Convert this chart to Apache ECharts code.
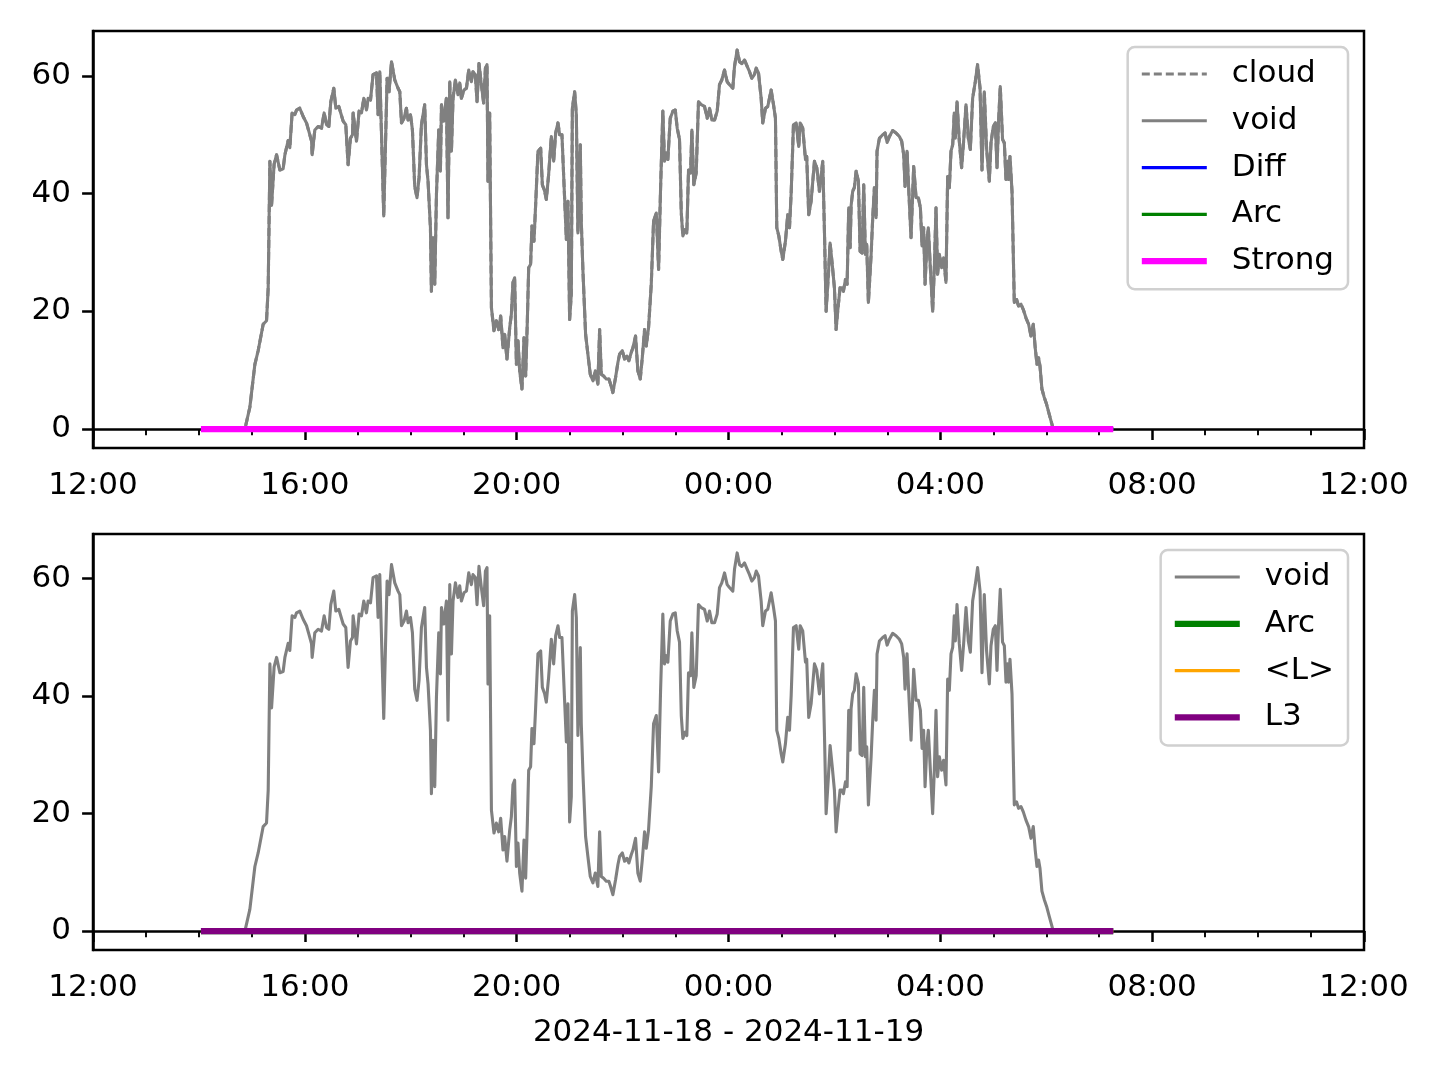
<!DOCTYPE html>
<html>
<head>
<meta charset="utf-8">
<script src="https://cdn.jsdelivr.net/npm/echarts@6/dist/echarts.min.js"></script>
<style>
html,body{margin:0;padding:0;background:#ffffff;}
#chart{width:1440px;height:1080px;}
</style>
</head>
<body>
<div id="chart"></div>
<script>
// ---------- data ----------
// time axis: 2024-11-18 12:00 UTC .. 2024-11-19 12:00 UTC
const axisStart = Date.UTC(2024, 10, 18, 12, 0);
const axisEnd = Date.UTC(2024, 10, 19, 12, 0);
const xAxisTitle = '2024-11-18 - 2024-11-19';
const yTickValues = [0, 20, 40, 60];

// minutes after 2024-11-18 12:00
const voidMinutes = [
122.3,172.1,177.7,183.4,187.1,192.8,196.6,198.5,200.4,202.3,205.2,208.0,211.7,215.4,217.4,221.1,223.0,225.6,228.7,230.6,
234.3,238.1,241.9,244.5,247.6,248.3,251.3,255.1,258.9,261.9,264.6,267.2,269.4,272.8,275.1,278.5,283.4,286.4,289.0,291.7,
294.0,294.7,298.5,301.5,304.2,306.8,309.8,311.7,314.4,317.3,321.2,323.0,324.9,326.8,329.4,333.2,335.4,338.2,341.9,345.6,
347.6,349.5,352.4,355.1,357.0,359.7,361.9,364.5,367.1,369.4,372.1,375.8,377.8,379.6,382.3,383.4,385.2,387.2,389.1,391.7,
393.6,394.8,397.4,400.4,402.2,404.2,406.1,407.9,410.6,413.5,415.5,417.4,420.3,423.1,425.7,428.7,430.5,433.2,435.1,437.3,
440.0,442.6,444.6,446.4,447.5,449.4,451.4,454.3,457.0,459.6,461.9,464.5,466.4,469.0,472.1,474.0,475.8,477.7,479.7,481.5,
483.4,486.0,488.3,490.2,492.1,493.6,495.8,497.3,499.6,501.5,504.1,507.2,509.1,511.7,513.6,516.2,519.3,521.9,524.2,526.8,
528.7,531.3,534.3,536.3,538.1,540.0,541.9,543.1,545.7,547.6,549.4,552.1,553.2,555.1,558.1,560.7,563.4,566.4,569.1,572.0,
574.0,575.9,578.5,581.5,584.5,586.4,589.0,592.1,594.7,596.6,599.7,602.3,604.9,607.1,609.8,611.7,614.7,617.3,620.0,622.3,
624.9,626.8,629.4,632.5,635.1,638.2,640.8,643.0,645.6,647.5,649.5,651.3,654.0,657.0,659.7,661.9,664.5,666.5,668.3,671.0,
672.8,674.7,677.0,678.5,680.7,683.4,686.0,689.1,692.8,695.9,698.5,701.1,704.2,707.2,709.8,712.4,715.5,718.5,721.1,724.9,
726.8,729.8,732.5,735.1,738.1,741.2,743.8,746.4,749.4,751.4,754.0,757.0,758.8,761.9,764.5,768.3,771.0,773.2,774.7,777.0,
779.7,781.5,784.5,787.1,789.1,791.0,793.6,796.6,799.6,801.2,804.1,807.2,808.6,810.9,813.6,815.4,817.4,820.0,823.0,826.8,
828.7,830.6,833.2,835.1,837.4,840.0,841.9,843.7,846.4,848.7,850.2,852.5,854.4,856.2,857.8,858.9,860.7,862.6,864.6,867.2,
869.1,871.4,873.2,875.1,876.6,878.5,881.6,883.4,885.3,887.2,888.3,891.0,894.7,897.4,899.7,902.3,906.0,909.8,913.6,916.2,
918.5,920.0,922.3,924.1,926.8,929.8,932.5,935.1,937.4,939.3,941.1,942.7,944.9,946.4,948.7,951.3,953.2,955.1,956.9,958.9,
961.5,963.7,966.4,968.3,970.2,972.1,974.0,975.8,977.0,978.9,981.5,984.1,986.4,989.1,991.7,994.0,996.6,999.6,1002.2,1005.0,
1007.2,1009.8,1012.4,1015.5,1017.4,1020.0,1022.3,1024.2,1026.0,1027.9,1030.5,1032.5,1034.4,1036.2,1037.3,1038.9,1041.2,1043.8,1046.4,1048.6,
1051.4,1054.0,1057.0,1060.0,1062.7,1065.3,1067.5,1069.5,1071.3,1072.9,1075.1,1077.7,1080.4,1083.4,1086.5,1087.9,1155.9
];
const voidValues = [
0,0,3.7,11,13.3,17.8,18.4,24,45.5,38,45,46.6,44,44.2,46.6,49,47.8,53.7,53.4,54.2,
54.5,53.1,52,50.6,48.9,46.6,50.8,51.4,51.1,53.7,51.7,51.4,55.6,57.9,54.5,54.8,52.3,51.7,44.9,49.4,
50,53.7,48.9,54,53.7,56.2,54.2,56.2,55.9,60.2,60.5,53.4,60.7,61,36.2,59.6,57.3,62.4,59.3,57.9,
57.3,52,52.8,54.5,52.5,53.4,50.8,41.2,39.3,42.7,51.7,55.1,44.9,42.1,34.2,23.4,32.5,24.6,39.8,50.8,
43.8,55.1,52.3,56.2,35.9,59,47.2,56.2,59.3,56.8,58.8,56.2,57.6,57.9,61,59,60.7,60.2,55.6,62.1,
58.5,55.4,61.3,61.9,42.1,53.7,20.6,16.7,18.4,16.9,19.2,13.8,16.1,11.9,17.2,19.5,24.9,25.7,11,15,
9.9,6.8,15.5,9,18.4,27.4,28,34.5,31.9,38.1,47.2,47.7,41.5,40.4,39,43.2,49.7,45.5,50.3,52,
50,50,39.3,32.2,38.7,18.6,22.9,54.5,57.3,53.4,33.3,48.3,35.3,26.8,16.1,12.7,9.3,8.2,9.9,7.6,
16.9,9.3,9,8.5,8.5,7.6,6.2,8.8,11.3,12.7,13.3,11.9,12.4,11.6,13,13.8,15.8,9.9,8.5,12.1,
16.9,14.1,17.2,24.6,35.3,36.7,27.1,40.7,54,45.5,46.9,45.8,52.8,54,54.2,51.1,49.2,36.7,32.8,33.9,
33.3,44,43.5,50.8,41.5,43.5,55.6,55.1,54.8,52.8,54.5,52.5,52.5,54,58.5,59.3,61,59,58.5,57.9,
61.6,64.4,62.4,62.1,62.7,61.6,60.7,59.6,60.2,61.3,60.5,56.2,52,54.5,54.8,57.6,55.1,52.8,34.2,32.8,
30.2,28.8,31.9,36.4,34.2,40.1,51.7,52,48,52,51.1,45.8,46.3,36.4,38.7,38.9,45.5,44.4,40.4,45.5,
33.6,20,26.3,31.6,28.2,24,16.9,20,24,24,23.4,25.4,24.6,37.6,30.8,37.9,40.4,41,43.8,42.1,
30.2,29.9,41.5,29.7,31.4,21.5,29.7,35.9,41,35.9,47.2,49.4,50,50.3,48.7,49.7,50.7,50.3,49.7,48.9,
46.6,41.2,47.2,41,32.5,44.6,39.3,39.3,37.6,31.1,34.2,24.6,31.9,34.2,27.4,20,27.4,37.6,26.3,29.7,
27.4,29.1,24.9,42.9,41,47.2,48.3,53.7,49.4,55.6,48.9,44.4,48.9,55.1,49.4,47.5,56.2,59,61.9,57.9,
44,57.3,47.7,42.1,48.6,51.4,52,44.4,52.3,58.2,49.2,48.6,42.4,45.5,42.4,46.3,40.4,21.5,22,20.9,
21.2,20.3,18.9,17.8,15.8,17.8,13.8,11,12.1,10.7,6.8,5.4,4.2,2.5,0.8,0,0
];
// "cloud" coincides with "void" (hidden beneath it)
const cloudMinutes = voidMinutes;
const cloudValues = voidValues;

// flat series (all zero over the recorded period)
const flatMinutes = [122.3, 1155.9];
const diffValues = [0, 0];
const arcValues = [0, 0];
const strongValues = [0, 0];
const lMeanValues = [0, 0];
const l3Values = [0, 0];

// ---------- helpers ----------
const FONT = 'DejaVu Sans';
function toPoints(minutes, values) {
  return minutes.map((m, i) => [axisStart + m * 60000, values[i]]);
}
function pad2(n) { return (n < 10 ? '0' : '') + n; }

const THIN = 3.1, THICK = 6.25;

function lineSeries(name, minutes, values, color, width, gridIdx, dashed) {
  return {
    type: 'line', name: name, xAxisIndex: gridIdx, yAxisIndex: gridIdx,
    data: toPoints(minutes, values),
    symbol: 'none', showSymbol: false, animation: false, silent: true,
    lineStyle: { color: color, width: width, type: dashed ? [8, 4] : 'solid', cap: 'butt', join: 'round' },
    itemStyle: { color: color },
    emphasis: { disabled: true }
  };
}

function xAxisCfg(idx, withName) {
  return {
    type: 'value', gridIndex: idx, min: axisStart, max: axisEnd, interval: 4 * 3600000,
    axisLine: { show: true, lineStyle: { color: '#000', width: 2.5 } },
    splitLine: { show: false },
    minorSplitLine: { show: false },
    axisTick: { show: true, length: 10.9, lineStyle: { color: '#000', width: 2.5 } },
    minorTick: { show: true, splitNumber: 4, length: 6.25, lineStyle: { color: '#000', width: 1.9 } },
    axisLabel: {
      margin: 22, color: '#000', fontSize: 31, fontFamily: FONT, lineHeight: 31,
      showMinLabel: true, showMaxLabel: true, hideOverlap: false,
      formatter: function (v) { const d = new Date(v); return pad2(d.getUTCHours()) + ':' + pad2(d.getUTCMinutes()); }
    },
    name: withName ? xAxisTitle : '',
    nameLocation: 'middle', nameGap: 67,
    nameTextStyle: { color: '#000', fontSize: 31, fontFamily: FONT, lineHeight: 31 }
  };
}
function yAxisCfg(idx) {
  return {
    type: 'value', gridIndex: idx, min: -3.22, max: 67.62,
    axisLine: { show: true, lineStyle: { color: '#000', width: 2.5 } },
    splitLine: { show: false },
    axisTick: { show: true, length: 10.9, customValues: yTickValues, lineStyle: { color: '#000', width: 2.5 } },
    axisLabel: { customValues: yTickValues, margin: 22, color: '#000', fontSize: 31, fontFamily: FONT, showMinLabel: true, showMaxLabel: true }
  };
}
function legendCfg(top, names, displayNames) {
  return {
    orient: 'vertical', right: 92, top: top, selectedMode: false,
    data: names,
    formatter: function (n) { return displayNames[n] || n; },
    itemWidth: 65, itemHeight: 31, itemGap: 15.8,
    padding: [11.5, 14, 12.5, 11],
    backgroundColor: 'rgba(255,255,255,0.8)', borderColor: '#d0d0d0', borderWidth: 2.5, borderRadius: 7,
    textStyle: { fontSize: 31, fontFamily: FONT, color: '#000', lineHeight: 31, padding: [0, 0, 0, 20] },
    itemStyle: { color: 'rgba(0,0,0,0)', borderColor: 'rgba(0,0,0,0)', borderWidth: 0, opacity: 0 },
    lineStyle: { width: 'inherit' }
  };
}

const option = {
  animation: false,
  backgroundColor: '#ffffff',
  textStyle: { fontFamily: FONT },
  grid: [
    { left: 93, right: 76, top: 31, height: 417, show: true, borderColor: '#000', borderWidth: 2.5, backgroundColor: 'transparent' },
    { left: 93, right: 76, top: 534, height: 416, show: true, borderColor: '#000', borderWidth: 2.5, backgroundColor: 'transparent' }
  ],
  xAxis: [xAxisCfg(0, false), xAxisCfg(1, true)],
  yAxis: [yAxisCfg(0), yAxisCfg(1)],
  legend: [
    legendCfg(47, ['cloud', 'void', 'Diff', 'Arc', 'Strong'], {}),
    legendCfg(550, ['void', 'Arc (lower)', '<L>', 'L3'], { 'Arc (lower)': 'Arc' })
  ],
  series: [
    lineSeries('cloud', cloudMinutes, cloudValues, '#808080', THIN, 0, true),
    lineSeries('void', voidMinutes, voidValues, '#808080', THIN, 0, false),
    lineSeries('Diff', flatMinutes, diffValues, '#0000ff', THIN, 0, false),
    lineSeries('Arc', flatMinutes, arcValues, '#008000', THIN, 0, false),
    lineSeries('Strong', flatMinutes, strongValues, '#ff00ff', THICK, 0, false),

    lineSeries('void', voidMinutes, voidValues, '#808080', THIN, 1, false),
    lineSeries('Arc (lower)', flatMinutes, arcValues, '#008000', THICK, 1, false),
    lineSeries('<L>', flatMinutes, lMeanValues, '#ffa500', THIN, 1, false),
    lineSeries('L3', flatMinutes, l3Values, '#800080', THICK, 1, false)
  ]
};

const chart = echarts.init(document.getElementById('chart'), null, { renderer: 'canvas' });
chart.setOption(option);
</script>
</body>
</html>
